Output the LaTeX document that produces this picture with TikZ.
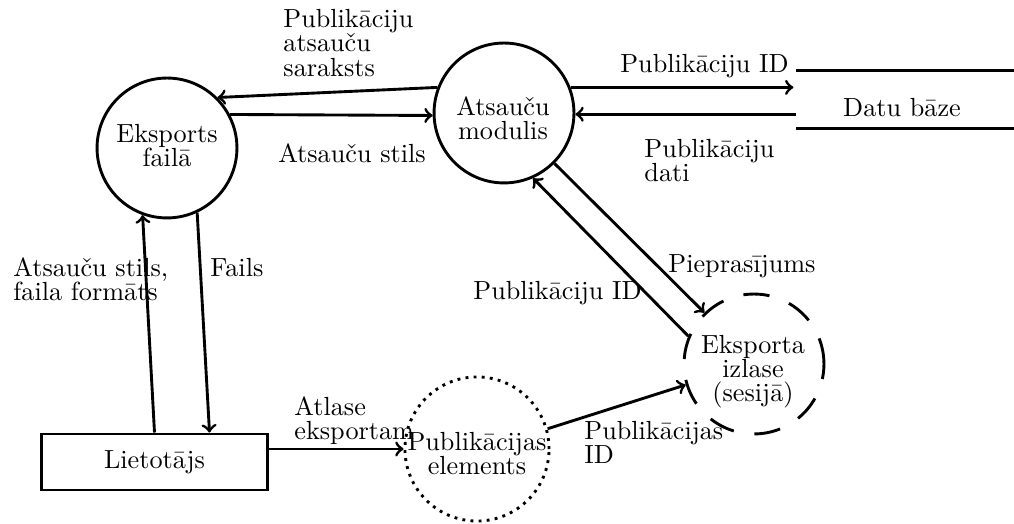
\documentclass[tikz,border=0pt]{standalone}
\usepackage{fontspec}
\usetikzlibrary{calc}
\begin{document}
\begin{tikzpicture}[x=0.38168pt,y=-0.38168pt, line width=1.1pt,
  every node/.style={font=\fontsize{10pt}{9.2pt}\selectfont},
  proc/.style={circle, draw, minimum size=53.4pt, inner sep=0pt},
  txt/.style={align=center, inner sep=0pt},
  lbl/.style={align=left, inner sep=0pt},
  flow/.style={->}]
\useasboundingbox (0,0) rectangle (1014,524);
% processes
\node[proc] (exp) at (167,148) {};
\node[txt] (expt) at (167,146) {Eksports\\failā};
\node[proc] (mod) at (504,113) {};
\node[txt] (modt) at (503,118) {Atsauču\\modulis};
\node[draw, minimum width=86pt, minimum height=21.4pt, inner sep=0pt] (user) at (154.5,462) {Lietotājs};
\node[proc, dotted, minimum size=55pt] (pub) at (477,449) {};
\node[txt] (pubt) at (477,454) {Publikācijas\\elements};
\node[proc, dash pattern=on 10pt off 8pt] (izl) at (754,364) {};
\node[txt] (izlt) at (753,372) {Eksporta\\izlase\\(sesijā)};
% data store
\node[minimum width=83.2pt, minimum height=21pt, inner sep=0pt, anchor=west] (db) at (796,99.5) {};
\draw (db.north west) -- (db.north east);
\draw (db.south west) -- (db.south east);
\node (dbt) at (902,108) {Datu bāze};
% flows
\draw[flow] (mod.159) -- (exp.45);
\draw[flow] (exp.28) -- (mod.182);
\draw[flow] (user.north) -- (exp.-110);
\draw[flow] (exp.-65) -- ($(user.north)+(55,0)$);
\draw[flow] (user.east |- pub.west) -- (pub.west);
\draw[flow] (pub.16) -- (izl.197);
\draw[flow] (mod.-45) -- (izl.134);
\draw[flow] (izl.157) -- (mod.-66);
\draw[flow, shorten >=1pt] (mod.21) -- (mod.21 -| db.west);
\draw[flow] (mod.-1 -| db.west) -- (mod.-1);
% labels
\node[lbl, anchor=west] (l1) at (282,43) {Publikāciju\\atsauču\\saraksts};
\node[lbl] (l2) at (352,153) {Atsauču stils};
\node[lbl, anchor=west] (l3) at (12,279) {Atsauču stils,\\faila formāts};
\node[lbl, anchor=west] (l4) at (209,268) {Fails};
\node[lbl, anchor=west] (l5) at (293,421) {Atlase\\eksportam};
\node[lbl, anchor=west] (l6) at (583,442) {Publikācijas\\ID};
\node[lbl, anchor=base west] (l7) at (667,273) {Pieprasījums};
\node[lbl, anchor=base west] (l8) at (472,300) {Publikāciju ID};
\node[lbl, anchor=base east] (l9) at (790,73) {Publikāciju ID};
\node[lbl, anchor=west] (l10) at (643,161) {Publikāciju\\dati};
\end{tikzpicture}
\end{document}
